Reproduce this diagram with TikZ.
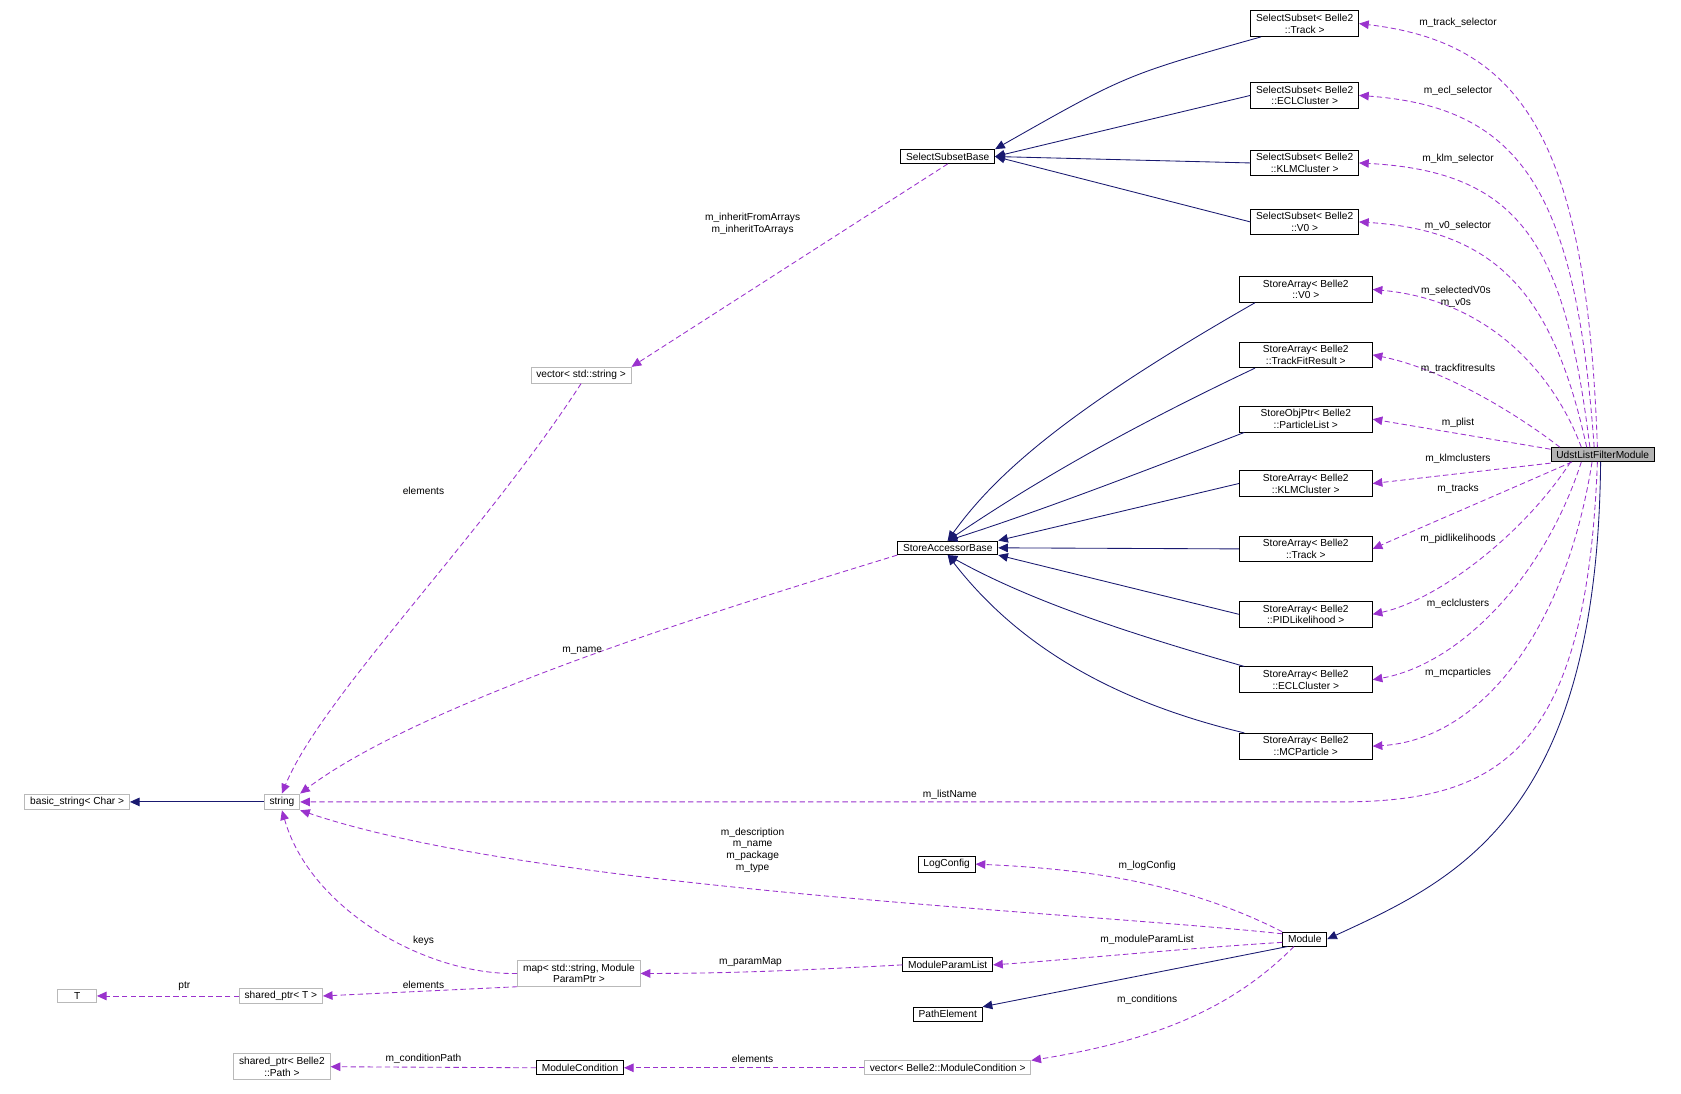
\documentclass[tikz,border=0pt]{standalone}
\usepackage{fontspec}
\setmainfont{Liberation Sans}
\usetikzlibrary{arrows.meta}
\definecolor{inhc}{HTML}{191970}
\definecolor{usec}{HTML}{9A32CD}
\begin{document}
\begin{tikzpicture}[x=1pt,y=-1pt,
 font=\fontsize{9.5}{11}\selectfont,
 box/.style={draw=black,thick,align=center,inner xsep=5pt,inner ysep=3pt,fill=white},
 gbox/.style={draw=gray!55,thick,align=center,inner xsep=5pt,inner ysep=3pt,fill=white},
 inh/.style={draw=inhc,thick,-{Triangle[length=9pt,width=8pt]}},
 use/.style={draw=usec,thick,dashed,dash pattern=on 5pt off 3pt,-{Triangle[length=9pt,width=8pt]}},
 lab/.style={align=center,inner sep=1pt}]
\useasboundingbox (0,0) rectangle (1568,1020);
% nodes
\node[box] (ss1) at (1217,22) {SelectSubset< Belle2\\::Track >};
\node[box] (ss2) at (1217,89) {SelectSubset< Belle2\\::ECLCluster >};
\node[box] (ss3) at (1217,152) {SelectSubset< Belle2\\::KLMCluster >};
\node[box] (ss4) at (1217,207) {SelectSubset< Belle2\\::V0 >};
\node[box] (ssb) at (884,146) {SelectSubsetBase};
\node[box,minimum width=124pt] (sa1) at (1218,270) {StoreArray< Belle2\\::V0 >};
\node[box,minimum width=124pt] (sa2) at (1218,331) {StoreArray< Belle2\\::TrackFitResult >};
\node[box,minimum width=124pt] (sa3) at (1218,391) {StoreObjPtr< Belle2\\::ParticleList >};
\node[box,minimum width=124pt] (sa4) at (1218,451) {StoreArray< Belle2\\::KLMCluster >};
\node[box,minimum width=124pt] (sa5) at (1218,512) {StoreArray< Belle2\\::Track >};
\node[box,minimum width=124pt] (sa6) at (1218,573) {StoreArray< Belle2\\::PIDLikelihood >};
\node[box,minimum width=124pt] (sa7) at (1218,634) {StoreArray< Belle2\\::ECLCluster >};
\node[box,minimum width=124pt] (sa8) at (1218,696) {StoreArray< Belle2\\::MCParticle >};
\node[box] (sab) at (884,511) {StoreAccessorBase};
\node[box,fill=gray!60] (ud) at (1495,424) {UdstListFilterModule};
\node[gbox] (vs) at (542,350) {vector< std::string >};
\node[gbox] (str) at (263,748) {string};
\node[gbox] (bs) at (72,748) {basic\_string< Char >};
\node[box] (lc) at (883,806) {LogConfig};
\node[box] (mod) at (1217,876) {Module};
\node[gbox] (map) at (540,908) {map< std::string, Module\\ParamPtr >};
\node[box] (mpl) at (884,900) {ModuleParamList};
\node[box] (pe) at (884,946) {PathElement};
\node[gbox,minimum width=36pt] (T) at (72,929) {T};
\node[gbox] (sp) at (262,929) {shared\_ptr< T >};
\node[gbox] (spp) at (263,995) {shared\_ptr< Belle2\\::Path >};
\node[box] (mc) at (541,996) {ModuleCondition};
\node[gbox] (vmc) at (884,996) {vector< Belle2::ModuleCondition >};
% inheritance
\draw[inh] (ss1.south west) ++(10,0) .. controls (1050,70) .. (ssb.north east);
\draw[inh] (ss2.west) -- (ssb.east);
\draw[inh] (ss3.west) -- (ssb.east);
\draw[inh] (ss4.west) -- (ssb.east);
\draw[inh] (sa1.south west) ++(15,0) .. controls (1000,380) and (930,440) .. (sab.north);
\draw[inh] (sa2.south west) ++(15,0) .. controls (1030,410) and (950,460) .. (sab.north);
\draw[inh] (sa3.south west) ++(5,0) .. controls (1040,450) and (960,480) .. (sab.north);
\draw[inh] (sa4.west) -- (sab.north east);
\draw[inh] (sa5.west) -- (sab.east);
\draw[inh] (sa6.west) -- (sab.south east);
\draw[inh] (sa7.north west) ++(5,0) .. controls (1050,590) and (960,560) .. (sab.south);
\draw[inh] (sa8.north west) ++(5,0) .. controls (1020,650) and (940,590) .. (sab.south);
\draw[inh] (str.west) -- (bs.east);
\draw[inh] (ud.south) ++(-2,0) .. controls (1490,760) and (1360,820) .. (mod.east);
\draw[inh] (mod.south west) ++(5,0) -- (pe.north east);
% usage
\draw[use] (ud.north) ++(-5,0) .. controls (1480,130) and (1420,40) .. (ss1.east);
\draw[use] (ud.north) ++(-8,0) .. controls (1470,180) and (1420,100) .. (ss2.east);
\draw[use] (ud.north) ++(-12,0) .. controls (1460,230) and (1420,160) .. (ss3.east);
\draw[use] (ud.north) ++(-15,0) .. controls (1450,280) and (1400,215) .. (ss4.east);
\draw[use] (ud.north) ++(-20,0) .. controls (1450,350) and (1390,280) .. (sa1.east);
\draw[use] (ud.north) ++(-40,0) .. controls (1420,390) and (1350,345) .. (sa2.east);
\draw[use] (ud.west) ++(0,-5) -- (sa3.east);
\draw[use] (ud.west) ++(0,8) -- (sa4.east);
\draw[use] (ud.south west) ++(20,0) .. controls (1400,460) and (1330,490) .. (sa5.east);
\draw[use] (ud.south) ++(-30,0) .. controls (1420,500) and (1340,560) .. (sa6.east);
\draw[use] (ud.south) ++(-20,0) .. controls (1440,540) and (1360,620) .. (sa7.east);
\draw[use] (ud.south) ++(-10,0) .. controls (1460,590) and (1380,690) .. (sa8.east);
\draw[use] (ud.south) ++(-5,0) .. controls (1480,700) and (1400,748) .. (1250,748) -- (str.east);
\draw[use] (ssb.south) -- (vs.north east);
\draw[use] (vs.south) .. controls (450,500) and (300,650) .. (str.north);
\draw[use] (sab.south west) .. controls (700,560) and (400,650) .. (str.north east);
\draw[use] (mod.west) ++(0,-5) .. controls (1000,850) and (500,830) .. (str.south east);
\draw[use] (mod.north west) .. controls (1100,820) and (1000,810) .. (lc.east);
\draw[use] (mod.west) ++(0,3) .. controls (1100,885) and (1000,895) .. (mpl.east);
\draw[use] (mod.south) ++(-10,0) .. controls (1150,940) and (1080,970) .. (vmc.north east);
\draw[use] (mpl.west) .. controls (750,905) and (680,908) .. (map.east);
\draw[use] (map.west) .. controls (400,910) and (290,850) .. (str.south);
\draw[use] (map.south west) -- (sp.east);
\draw[use] (sp.west) -- (T.east);
\draw[use] (vmc.west) -- (mc.east);
\draw[use] (mc.west) -- (spp.east);
% labels
\node[lab] at (1360,21) {m\_track\_selector};
\node[lab] at (1360,85) {m\_ecl\_selector};
\node[lab] at (1360,148) {m\_klm\_selector};
\node[lab] at (1360,211) {m\_v0\_selector};
\node[lab] at (1358,277) {m\_selectedV0s\\m\_v0s};
\node[lab] at (1360,344) {m\_trackfitresults};
\node[lab] at (1360,394) {m\_plist};
\node[lab] at (1360,428) {m\_klmclusters};
\node[lab] at (1360,456) {m\_tracks};
\node[lab] at (1360,503) {m\_pidlikelihoods};
\node[lab] at (1360,563) {m\_eclclusters};
\node[lab] at (1360,628) {m\_mcparticles};
\node[lab] at (886,741) {m\_listName};
\node[lab] at (702,209) {m\_inheritFromArrays\\m\_inheritToArrays};
\node[lab] at (395,458) {elements};
\node[lab] at (543,607) {m\_name};
\node[lab] at (702,793) {m\_description\\m\_name\\m\_package\\m\_type};
\node[lab] at (1070,808) {m\_logConfig};
\node[lab] at (1070,877) {m\_moduleParamList};
\node[lab] at (1070,933) {m\_conditions};
\node[lab] at (700,897) {m\_paramMap};
\node[lab] at (395,878) {keys};
\node[lab] at (395,919) {elements};
\node[lab] at (172,920) {ptr};
\node[lab] at (702,988) {elements};
\node[lab] at (395,988) {m\_conditionPath};
\end{tikzpicture}
\end{document}
